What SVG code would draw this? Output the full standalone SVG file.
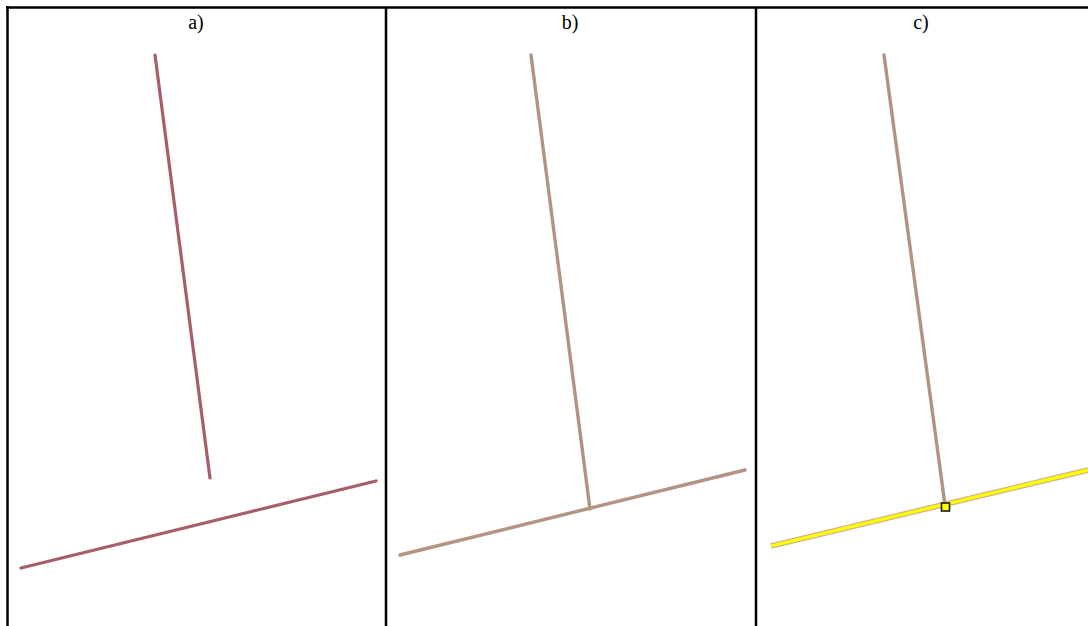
<svg xmlns="http://www.w3.org/2000/svg" width="1088" height="626" viewBox="0 0 1088 626">
<style>
.b{stroke:#000;stroke-width:2.5;fill:none}
.lbl{font-family:"Liberation Serif",serif;font-size:20px;fill:#000;text-anchor:middle}
.ra{stroke:#a65f69;stroke-width:3.2;stroke-linecap:round;fill:none}
.rb{stroke:#b39482;stroke-width:3.4;stroke-linecap:round;fill:none}
.ye{stroke:#ffff00;stroke-width:3.2;fill:none}
.yo{stroke:#cdb28e;stroke-width:5.6;fill:none}
</style>
<rect width="1088" height="626" fill="#fff"/>
<g id="table">
<line class="b" x1="6" y1="7.5" x2="1088" y2="7.5"/>
<line class="b" x1="7.5" y1="6" x2="7.5" y2="626"/>
<line class="b" x1="386" y1="7.5" x2="386" y2="626"/>
<line class="b" x1="756" y1="7.5" x2="756" y2="626"/>
</g>
<g id="labels">
<text class="lbl" x="196" y="29">a)</text>
<text class="lbl" x="570" y="29">b)</text>
<text class="lbl" x="921" y="29">c)</text>
</g>
<g id="panel-a">
<line class="ra" x1="155" y1="55" x2="210" y2="478"/>
<line class="ra" x1="21" y1="568" x2="376" y2="481"/>
</g>
<g id="panel-b">
<line class="rb" x1="531" y1="55" x2="590" y2="509"/>
<line class="rb" x1="400" y1="555" x2="745" y2="470"/>
</g>
<g id="panel-c">
<line class="rb" x1="884" y1="55" x2="945" y2="505"/>
<line class="yo" x1="771" y1="546" x2="1088" y2="470"/>
<line class="ye" x1="771" y1="546" x2="1088" y2="470"/>
<rect x="941.5" y="503" width="8" height="8" fill="#ffff00" stroke="#1a1a1a" stroke-width="1.6"/>
</g>
</svg>
